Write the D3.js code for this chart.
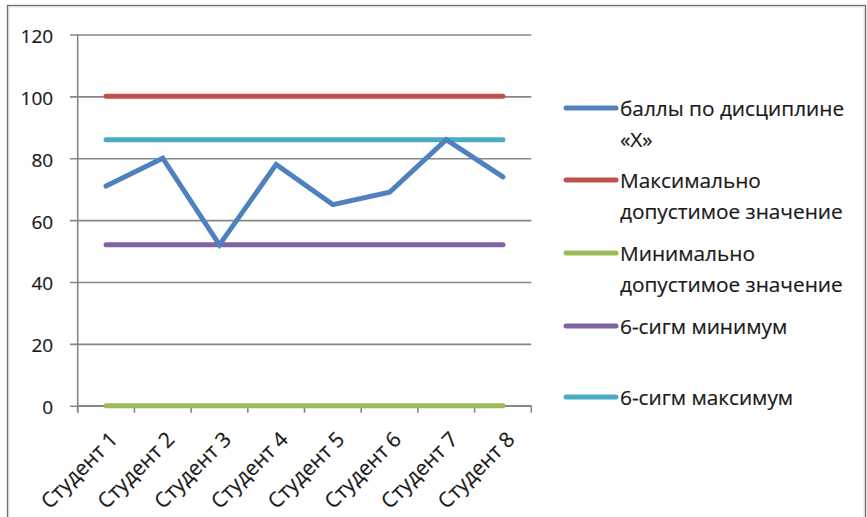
<!DOCTYPE html>
<html>
<head>
<meta charset="utf-8">
<script src="https://cdn.jsdelivr.net/npm/d3@7"></script>
<style>
  html, body { margin: 0; padding: 0; background: #fff; }
  svg { display: block; }
  text { font-family: "Open Sans", "Noto Sans", sans-serif; fill: #1a1a1a; stroke: #1a1a1a; stroke-width: 0.2px; }
</style>
</head>
<body>
<svg id="chart" width="867" height="517"></svg>
<script>
// Students on the category axis
const students = ["Студент 1", "Студент 2", "Студент 3", "Студент 4",
                  "Студент 5", "Студент 6", "Студент 7", "Студент 8"];

// Scores per student
const scores = [71, 80, 52, 78, 65, 69, 86, 74];
// Control limits (constant per student)
const maxAllowed = [100, 100, 100, 100, 100, 100, 100, 100];
const minAllowed = [0, 0, 0, 0, 0, 0, 0, 0];
const sigmaMin = [52, 52, 52, 52, 52, 52, 52, 52];
const sigmaMax = [86, 86, 86, 86, 86, 86, 86, 86];

const yTicks = [0, 20, 40, 60, 80, 100, 120];

const seriesNames = [
  ["баллы по дисциплине", "«X»"],
  ["Максимально", "допустимое значение"],
  ["Минимально", "допустимое значение"],
  ["6-сигм минимум"],
  ["6-сигм максимум"]
];
const seriesColors = ["#4F81BD", "#C0504D", "#9BBB59", "#8064A2", "#4BACC6"];
const seriesValues = [scores, maxAllowed, minAllowed, sigmaMin, sigmaMax];

const svg = d3.select("#chart");

// outer frame
svg.append("rect")
  .attr("x", 7.5).attr("y", 5.5).attr("width", 858).attr("height", 530)
  .attr("fill", "none").attr("stroke", "#6f6f6f").attr("stroke-width", 1.3);
svg.append("rect")
  .attr("x", 8.8).attr("y", 6.8).attr("width", 855.4).attr("height", 530)
  .attr("fill", "none").attr("stroke", "#d4d4d4").attr("stroke-width", 1);

const plot = { left: 77.7, right: 531.3, top: 34.5, bottom: 405.7 };

const x = d3.scaleBand().domain(students).range([plot.left, plot.right]).paddingInner(0).paddingOuter(0);
const y = d3.scaleLinear().domain([0, 120]).range([plot.bottom, plot.top]);

const gridColor = "#868686";

// horizontal gridlines with outward ticks
const yAxis = d3.axisLeft(y).tickValues(yTicks).tickSize(-(plot.right - plot.left)).tickPadding(24.5);
const gy = svg.append("g").attr("transform", `translate(${plot.left},0)`).call(yAxis);
gy.select(".domain").remove();
gy.selectAll(".tick line").attr("stroke", gridColor).attr("stroke-width", 1.6).attr("x1", -7.7);
gy.selectAll(".tick text").attr("font-size", 19).attr("fill", "#1a1a1a")
  .attr("font-family", "\"Open Sans\", sans-serif").attr("dy", "0.42em");

// vertical value axis line
svg.append("line")
  .attr("x1", plot.left).attr("x2", plot.left)
  .attr("y1", plot.top).attr("y2", plot.bottom + 7)
  .attr("stroke", gridColor).attr("stroke-width", 1.6);

// category axis with ticks at band boundaries
const boundaries = students.map(s => x(s)).concat([plot.right]);
const gx = svg.append("g");
gx.append("line")
  .attr("x1", plot.left).attr("x2", plot.right)
  .attr("y1", plot.bottom).attr("y2", plot.bottom)
  .attr("stroke", gridColor).attr("stroke-width", 1.6);
gx.selectAll("line.tk").data(boundaries).enter().append("line")
  .attr("class", "tk")
  .attr("x1", d => d).attr("x2", d => d)
  .attr("y1", plot.bottom).attr("y2", plot.bottom + 7)
  .attr("stroke", gridColor).attr("stroke-width", 1.6);

// rotated category labels
gx.selectAll("text").data(students).enter().append("text")
  .attr("transform", d => `translate(${x(d) + x.bandwidth() / 2 + 13},${plot.bottom + 35}) rotate(-45)`)
  .attr("text-anchor", "end")
  .attr("font-size", 21)
  .text(d => d);

// series lines, drawn back to front
const line = d3.line()
  .x((d, i) => x(students[i]) + x.bandwidth() / 2)
  .y(d => y(d));

const drawOrder = [2, 3, 4, 1, 0];
drawOrder.forEach(k => {
  svg.append("path")
    .datum(seriesValues[k])
    .attr("d", line)
    .attr("fill", "none")
    .attr("stroke", seriesColors[k])
    .attr("stroke-width", 5)
    .attr("stroke-linecap", "round")
    .attr("stroke-linejoin", "miter");
});

// legend
const legendY = [108, 180, 253, 326, 397];
const legend = svg.append("g");
seriesNames.forEach((lines, k) => {
  const g = legend.append("g").attr("transform", `translate(0,${legendY[k]})`);
  g.append("line")
    .attr("x1", 566).attr("x2", 616).attr("y1", 0).attr("y2", 0)
    .attr("stroke", seriesColors[k]).attr("stroke-width", 5).attr("stroke-linecap", "round");
  lines.forEach((t, j) => {
    g.append("text")
      .attr("x", 620).attr("y", j * 31)
      .attr("dy", "0.38em")
      .attr("font-size", 20.8)
      .text(t);
  });
});
</script>
</body>
</html>
